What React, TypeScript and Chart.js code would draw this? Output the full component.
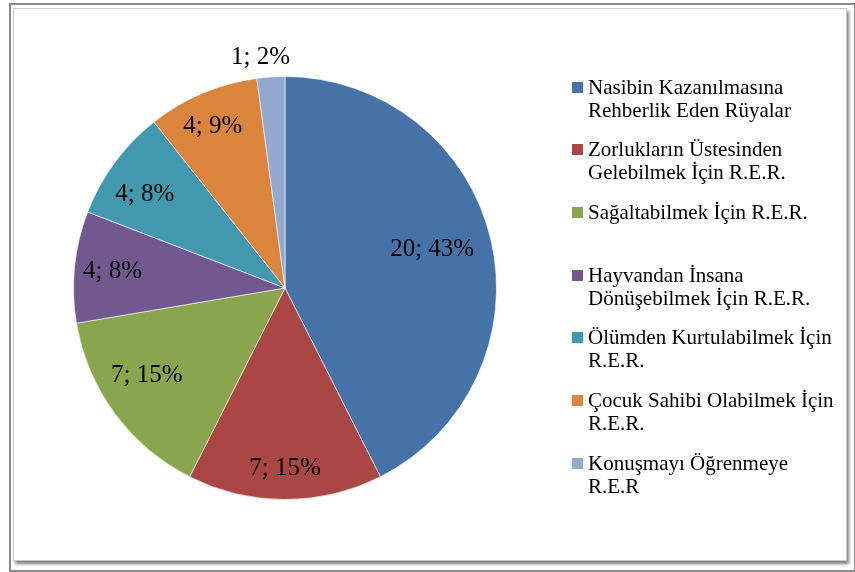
import React, { useEffect, useRef } from "react";
import { Chart, registerables } from "chart.js";

Chart.register(...registerables);

const categories = [
  "Nasibin Kazanılmasına\nRehberlik Eden Rüyalar",
  "Zorlukların Üstesinden\nGelebilmek İçin R.E.R.",
  "Sağaltabilmek İçin R.E.R.",
  "Hayvandan İnsana\nDönüşebilmek İçin R.E.R.",
  "Ölümden Kurtulabilmek İçin\nR.E.R.",
  "Çocuk Sahibi Olabilmek İçin\nR.E.R.",
  "Konuşmayı Öğrenmeye\nR.E.R",
];
const values = [20, 7, 7, 4, 4, 4, 1];
const percents = [43, 15, 15, 8, 8, 9, 2];
const colors = ["#4572A7", "#AA4643", "#89A54E", "#71588F", "#4198AF", "#DB843D", "#93A9CF"];

// data label placement (style only): radius as fraction of pie radius, angular shift in degrees
const LABEL_RADIUS = [0.72, 0.85, 0.77, 0.82, 0.8, 0.84, 1.1];
const LABEL_SHIFT = [-1.5, 0, 4.4, 0, -2.4, -1, -2.2];

const FONT = '"Liberation Serif", "Times New Roman", serif';

const dataLabelPlugin = {
  id: "pieDataLabels",
  afterDatasetsDraw(chart: any) {
    const ctx = chart.ctx;
    const meta = chart.getDatasetMeta(0);
    ctx.save();
    ctx.font = `25px ${FONT}`;
    ctx.fillStyle = "#000";
    ctx.textAlign = "center";
    ctx.textBaseline = "middle";
    meta.data.forEach((arc: any, i: number) => {
      const p = arc.getProps(["x", "y", "startAngle", "endAngle", "outerRadius"], true);
      const mid = (p.startAngle + p.endAngle) / 2 + (LABEL_SHIFT[i] * Math.PI) / 180;
      const r = p.outerRadius * LABEL_RADIUS[i];
      const x = p.x + Math.cos(mid) * r;
      const y = p.y + Math.sin(mid) * r;
      ctx.fillText(`${values[i]}; ${percents[i]}%`, x, y + 1);
    });
    ctx.restore();
  },
};

export default function App() {
  const canvasRef = useRef<HTMLCanvasElement | null>(null);

  useEffect(() => {
    if (!canvasRef.current) return;
    const chart = new Chart(canvasRef.current, {
      type: "pie",
      data: {
        labels: categories,
        datasets: [
          {
            data: values,
            backgroundColor: colors,
            borderColor: "rgba(255,255,255,0.6)",
            borderWidth: 1,
          },
        ],
      },
      options: {
        animation: false,
        responsive: false,
        maintainAspectRatio: false,
        layout: { padding: { top: 76, bottom: 72, left: 73, right: 358 } },
        plugins: {
          legend: { display: false },
          tooltip: { enabled: false },
        },
      },
      plugins: [dataLabelPlugin],
    });
    return () => chart.destroy();
  }, []);

  return (
    <div
      style={{
        position: "absolute",
        left: 0,
        top: 0,
        width: 855,
        height: 572,
        overflow: "hidden",
        background: "#fff",
      }}
    >
      <div
        style={{
          position: "absolute",
          left: 9,
          top: 3,
          width: 843,
          height: 565,
          border: "2px solid #8a8a8a",
        }}
      />
      <div
        style={{
          position: "absolute",
          left: 13,
          top: 8,
          width: 832,
          height: 551,
          border: "1px solid #c8c8c8",
          boxShadow: "2px 3px 3px rgba(0,0,0,0.5)",
          background: "#fff",
        }}
      />
      <canvas
        ref={canvasRef}
        width={855}
        height={572}
        style={{ position: "absolute", left: 0, top: 0, width: 855, height: 572 }}
      />
      <div style={{ position: "absolute", left: 572, top: 75.5, width: 280 }}>
        {categories.map((c, i) => (
          <div key={i} style={{ height: 62.7, display: "flex", alignItems: "flex-start" }}>
            <div
              style={{
                width: 11,
                height: 11,
                marginTop: 6,
                marginRight: 5,
                background: colors[i],
                flex: "0 0 auto",
              }}
            />
            <div
              style={{
                fontFamily: FONT,
                fontSize: 21,
                lineHeight: "23px",
                color: "#000",
                whiteSpace: "pre-line",
              }}
            >
              {c}
            </div>
          </div>
        ))}
      </div>
    </div>
  );
}
